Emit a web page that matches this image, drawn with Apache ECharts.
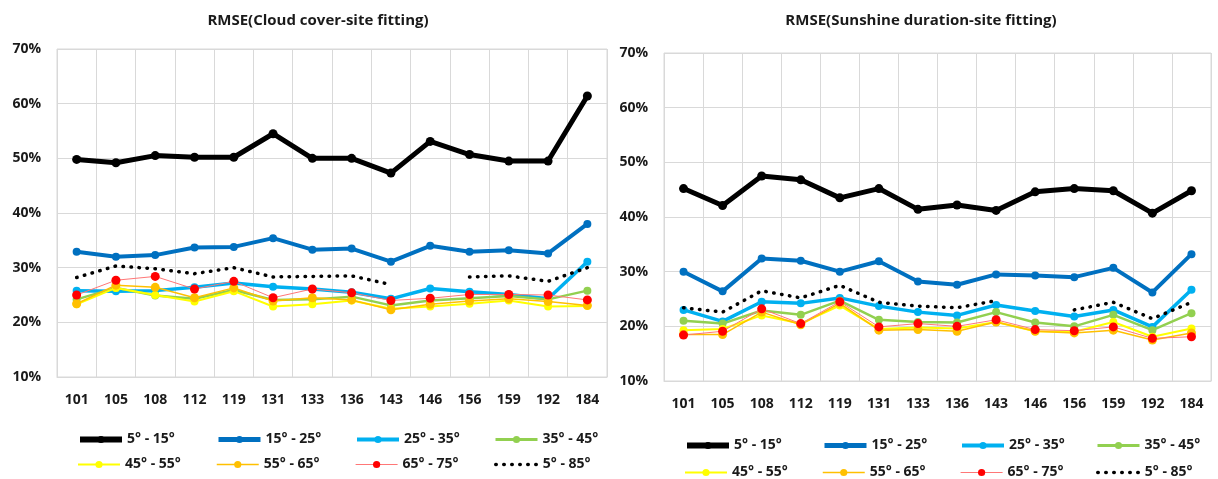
<!DOCTYPE html>
<html><head><meta charset="utf-8">
<script src="https://cdn.jsdelivr.net/npm/echarts@6/dist/echarts.min.js"></script>
<style>html,body{margin:0;padding:0;background:#fff}#c{width:1218px;height:479px}</style>
</head><body><div id="c"></div>
<script>
const categories = ['101','105','108','112','119','131','133','136','143','146','156','159','192','184'];
const seriesNames = ['5° - 15°','15° - 25°','25° - 35°','35° - 45°','45° - 55°','55° - 65°','65° - 75°','5° - 85°'];
const yTicks = [10, 20, 30, 40, 50, 60, 70];
const titles = ['RMSE(Cloud cover-site fitting)', 'RMSE(Sunshine duration-site fitting)'];

// Left chart: Cloud cover-site fitting (RMSE %)
const cloud_5_15  = [49.8,49.2,50.5,50.2,50.2,54.5,50.0,50.0,47.3,53.1,50.7,49.5,49.5,61.4];
const cloud_15_25 = [32.9,32.0,32.3,33.7,33.8,35.4,33.3,33.5,31.1,34.0,32.9,33.2,32.6,38.0];
const cloud_25_35 = [25.8,25.7,25.8,26.4,27.2,26.5,26.1,25.5,24.3,26.2,25.6,25.1,24.3,31.1];
const cloud_35_45 = [24.2,26.3,24.9,24.3,25.9,24.1,24.2,24.7,23.1,24.0,24.4,24.8,24.2,25.8];
const cloud_45_55 = [23.3,26.3,25.0,23.8,25.7,22.9,23.3,24.0,22.5,22.9,23.4,24.0,22.9,23.0];
const cloud_55_65 = [23.4,26.8,26.4,24.5,26.3,23.9,24.5,24.1,22.3,23.3,23.9,24.3,23.8,23.1];
const cloud_65_75 = [25.0,27.7,28.4,26.1,27.5,24.5,26.1,25.4,24.0,24.4,25.1,25.1,25.0,24.1];
const cloud_5_85  = [28.2,30.3,29.8,28.9,30.0,28.3,28.4,28.5,26.9,null,28.3,28.5,27.5,30.0];

// Right chart: Sunshine duration-site fitting (RMSE %)
const sun_5_15  = [45.2,42.1,47.5,46.8,43.5,45.2,41.4,42.2,41.2,44.6,45.2,44.8,40.7,44.8];
const sun_15_25 = [30.0,26.4,32.4,32.0,30.0,31.9,28.2,27.6,29.5,29.3,29.0,30.7,26.2,33.2];
const sun_25_35 = [23.0,20.9,24.5,24.2,25.2,23.7,22.6,22.0,23.9,22.8,21.8,23.0,19.9,26.7];
const sun_35_45 = [21.0,20.5,22.9,22.1,24.7,21.2,20.8,20.7,22.6,20.7,20.0,22.1,19.3,22.4];
const sun_45_55 = [19.3,19.5,22.0,20.5,23.8,19.5,19.8,19.6,20.8,19.1,19.0,20.8,18.1,19.6];
const sun_55_65 = [18.5,18.5,22.6,20.3,24.2,19.3,19.4,19.1,20.8,19.1,18.8,19.3,17.5,18.8];
const sun_65_75 = [18.4,19.1,23.2,20.5,24.5,19.9,20.5,20.0,21.2,19.4,19.2,19.9,17.8,18.1];
const sun_5_85  = [23.4,22.6,26.5,25.2,27.5,24.4,23.7,23.4,24.7,null,23.0,24.4,21.4,24.4];

const leftData  = [cloud_5_15,cloud_15_25,cloud_25_35,cloud_35_45,cloud_45_55,cloud_55_65,cloud_65_75,cloud_5_85];
const rightData = [sun_5_15,sun_15_25,sun_25_35,sun_35_45,sun_45_55,sun_55_65,sun_65_75,sun_5_85];

const FONT = '"Open Sans", "Liberation Sans", sans-serif';
const TXT = '#1a1a1a';
const GRIDC = '#d9d9d9';

const styles = [
  {color:'#000000', line:'#000000', width:5,   sym:9,  lw:6},
  {color:'#0070C0', line:'#0070C0', width:4,   sym:8,  lw:5},
  {color:'#00B0F0', line:'#00B0F0', width:3.5, sym:8,  lw:4},
  {color:'#92D050', line:'#92D050', width:2.5, sym:8,  lw:3},
  {color:'#FFFF00', line:'#FFFF00', width:2,   sym:8,  lw:2},
  {color:'#FFC000', line:'#FFC000', width:1.5, sym:9,  lw:1.5},
  {color:'#FF0000', line:'#FF7777', width:1,   sym:9,  lw:1.2},
  {color:'#000000', line:'#000000', width:3.5, sym:0,  lw:3.5, dotted:true}
];

function makeSeries(dataArr, idx) {
  return dataArr.map((d, i) => {
    const s = styles[i];
    const o = {
      name: seriesNames[i], type: 'line', xAxisIndex: idx, yAxisIndex: idx,
      data: d, animation: false, connectNulls: false,
      itemStyle: {color: s.color},
      lineStyle: {color: s.line, width: s.width},
      symbol: s.dotted ? 'none' : 'circle', symbolSize: s.sym,
      z: 2 + (i === 0 ? 10 : i)
    };
    if (s.dotted) {
      o.lineStyle.type = [0.5, 7.5];
      o.lineStyle.cap = 'round';
    }
    return o;
  });
}

const grids = [
  {left: 57, top: 49, width: 550, height: 328},
  {left: 664, top: 53, width: 547, height: 328}
];

function xAxis(idx) {
  return {
    type: 'category', gridIndex: idx, data: categories, boundaryGap: true,
    axisTick: {show: false},
    axisLine: {lineStyle: {color: GRIDC}},
    splitLine: {show: true, interval: 0, lineStyle: {color: GRIDC}},
    axisLabel: {interval: 0, margin: 16, color: TXT, fontSize: 14, fontWeight: 'bold', fontFamily: FONT}
  };
}
function yAxis(idx) {
  return {
    type: 'value', gridIndex: idx, min: yTicks[0], max: yTicks[yTicks.length-1], interval: 10,
    axisLine: {show: false}, axisTick: {show: false},
    splitLine: {lineStyle: {color: GRIDC}},
    axisLabel: {formatter: '{value}%', margin: 16, color: TXT, fontSize: 14, fontWeight: 'bold', fontFamily: FONT}
  };
}

const legendCols = [[77,216,355,494],[684,822,960,1096]];
const legendRows = [[432.5,457.5],[438.5,465.5]];
const legends = [];
for (let c = 0; c < 2; c++) {
  seriesNames.forEach((n, i) => {
    const s = styles[i];
    const item = s.dotted ? {name: n, itemStyle: {opacity: 0}} : {name: n};
    legends.push({
      data: [item], left: legendCols[c][i % 4], top: legendRows[c][Math.floor(i / 4)],
      itemWidth: 42, itemHeight: 9, itemGap: 0, padding: 0, selectedMode: false,
      lineStyle: {width: s.lw},
      textStyle: {color: TXT, fontSize: 14, fontWeight: 'bold', fontFamily: FONT}
    });
  });
}

const chart = echarts.init(document.getElementById('c'), null, {renderer: 'canvas'});
chart.setOption({
  backgroundColor: '#ffffff',
  animation: false,
  title: [
    {text: titles[0], left: 313, top: 8, textAlign: 'center', textStyle: {fontSize: 15, fontWeight: 'bold', color: TXT, fontFamily: FONT}},
    {text: titles[1], left: 916, top: 8, textAlign: 'center', textStyle: {fontSize: 15, fontWeight: 'bold', color: TXT, fontFamily: FONT}}
  ],
  grid: grids.map(g => Object.assign({show: true, borderColor: GRIDC, borderWidth: 1}, g)),
  xAxis: [xAxis(0), xAxis(1)],
  yAxis: [yAxis(0), yAxis(1)],
  legend: legends,
  series: makeSeries(leftData, 0).concat(makeSeries(rightData, 1))
});
</script></body></html>
